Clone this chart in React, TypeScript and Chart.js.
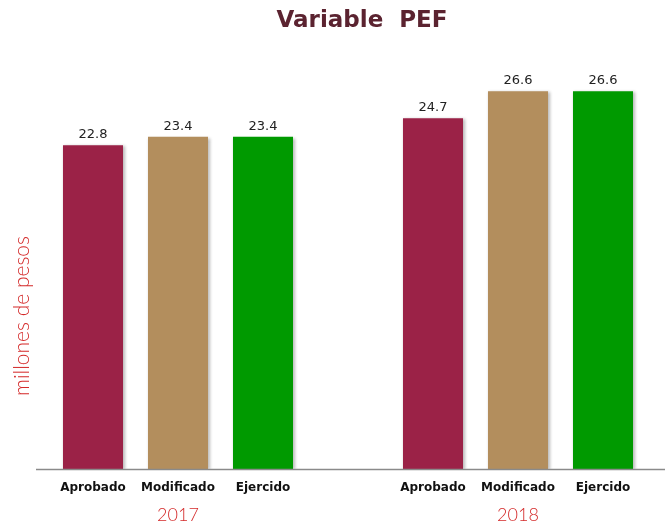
import React, { useEffect, useRef } from "react";
import { Chart, registerables } from "chart.js";

Chart.register(...registerables);

const categories = ["Aprobado", "Modificado", "Ejercido", "", "Aprobado", "Modificado", "Ejercido"];
const yearLabels = ["", "2017", "", "", "", "2018", ""];
const values2017 = [22.8, 23.4, 23.4];
const values2018 = [24.7, 26.6, 26.6];
const barColors = ["#9B2247", "#B38E5D", "#009A00"];
const titleText = "Variable  PEF";
const yTitleText = "millones de pesos";

const FONT = "'DejaVu Sans', sans-serif";
const LIGHT_FONT = "Lato, 'DejaVu Sans', sans-serif";

export default function App() {
  const ref = useRef<HTMLCanvasElement | null>(null);

  useEffect(() => {
    document.body.style.margin = "0";
    const canvas = ref.current;
    if (!canvas) return;

    const data = [...values2017, null, ...values2018];
    const colors = [...barColors, "transparent", ...barColors];

    const decorPlugin = {
      id: "decor",
      beforeDatasetsDraw(chart: any) {
        const ctx = chart.ctx;
        ctx.save();
        ctx.shadowColor = "rgba(0,0,0,0.28)";
        ctx.shadowBlur = 3;
        ctx.shadowOffsetX = 1.5;
        ctx.shadowOffsetY = 1;
      },
      afterDatasetsDraw(chart: any) {
        const ctx = chart.ctx;
        ctx.restore();
        const meta = chart.getDatasetMeta(0);
        ctx.save();
        ctx.fillStyle = "#222222";
        ctx.font = `13px ${FONT}`;
        ctx.textAlign = "center";
        ctx.textBaseline = "bottom";
        meta.data.forEach((bar: any, i: number) => {
          const v = data[i];
          if (v == null) return;
          ctx.fillText(v.toFixed(1), bar.x, bar.y - 4);
        });
        ctx.restore();
      },
      afterDraw(chart: any) {
        const ctx = chart.ctx;
        const area = chart.chartArea;
        ctx.save();
        // baseline
        ctx.strokeStyle = "#8a8a8a";
        ctx.lineWidth = 1.5;
        ctx.beginPath();
        ctx.moveTo(36, area.bottom + 0.5);
        ctx.lineTo(chart.width, area.bottom + 0.5);
        ctx.stroke();
        // title
        ctx.fillStyle = "#5B2330";
        ctx.font = `bold 23px ${FONT}`;
        ctx.textAlign = "center";
        ctx.textBaseline = "middle";
        ctx.fillText(titleText, 362, 21);
        // y title
        ctx.translate(22, 316);
        ctx.rotate(-Math.PI / 2);
        ctx.fillStyle = "#D42A2A";
        ctx.font = `300 21px ${LIGHT_FONT}`;
        ctx.fillText(yTitleText, 0, 0);
        ctx.restore();
      },
    };

    const chart = new Chart(canvas, {
      type: "bar",
      data: {
        labels: categories,
        datasets: [
          {
            data,
            backgroundColor: colors,
            borderWidth: 0,
            categoryPercentage: 1,
            barPercentage: 0.706,
          },
        ],
      },
      options: {
        responsive: false,
        animation: false,
        layout: { padding: { left: 50.5, right: 19.5, top: 43, bottom: 0 } },
        plugins: {
          legend: { display: false },
          tooltip: { enabled: false },
          title: { display: false },
        },
        scales: {
          x: {
            position: "bottom",
            grid: { display: false, drawTicks: false },
            border: { display: false },
            ticks: {
              padding: 12,
              color: "#111111",
              font: { family: FONT, size: 12, weight: "bold" },
              maxRotation: 0,
              autoSkip: false,
            },
            afterFit(scale: any) {
              scale.height = 26;
            },
          },
          x2: {
            type: "category",
            labels: yearLabels,
            position: "bottom",
            grid: { display: false, drawTicks: false },
            border: { display: false },
            ticks: {
              padding: 9,
              color: "#D42A2A",
              font: { family: LIGHT_FONT, size: 18, weight: "300" },
              maxRotation: 0,
              autoSkip: false,
            },
            afterFit(scale: any) {
              scale.height = 30;
            },
          },
          y: {
            display: false,
            min: 0,
            max: 30,
          },
        },
      },
      plugins: [decorPlugin],
    } as any);

    return () => chart.destroy();
  }, []);

  return (
    <div style={{ width: 665, height: 525 }}>
      <canvas ref={ref} width={665} height={525} style={{ display: "block" }} />
    </div>
  );
}
